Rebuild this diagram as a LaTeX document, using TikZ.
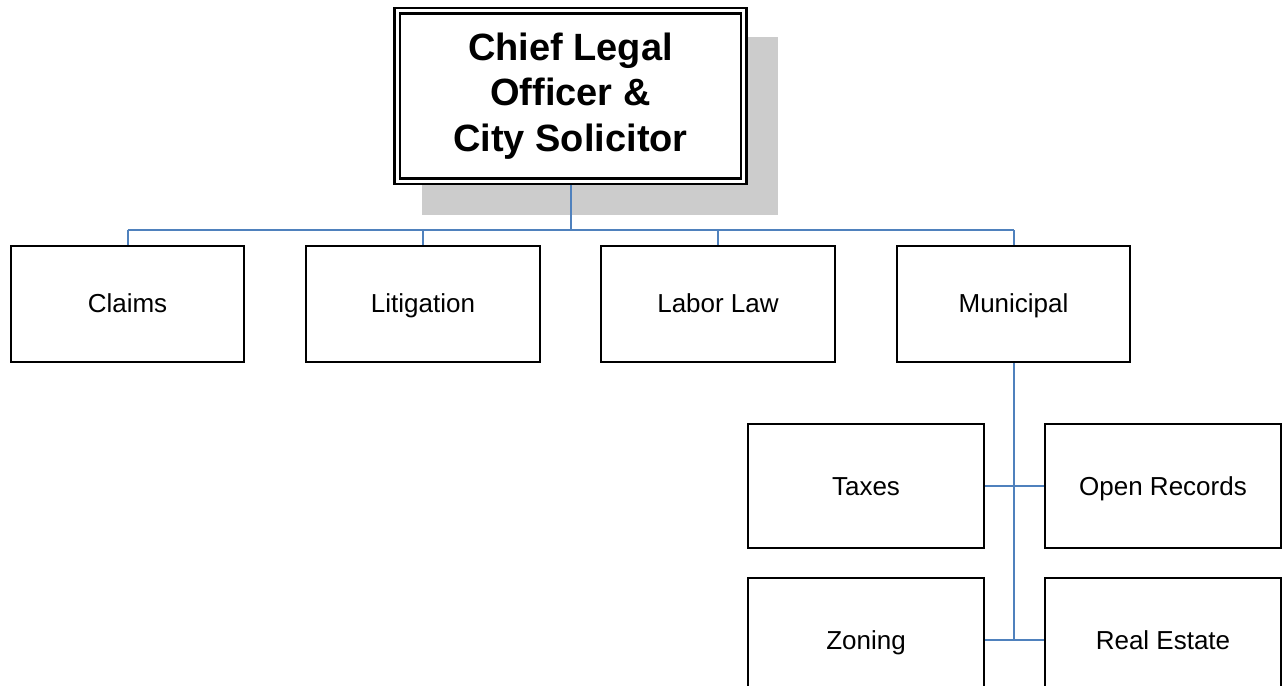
\documentclass[tikz,border=0pt]{standalone}
\usepackage{fontspec}
\setmainfont{Liberation Sans}
\usetikzlibrary{backgrounds}
\definecolor{linkblue}{HTML}{4F81BD}
\definecolor{shadowgray}{HTML}{CCCCCC}
\tikzset{
	unit/.style={draw, line width=1.5pt, fill=white, minimum width=175pt, minimum height=87pt, inner sep=0pt,
		text height=14pt, text depth=0pt, font=\fontsize{19.5}{23}\selectfont},
	subunit/.style={unit, minimum width=177pt, minimum height=93pt},
	link/.style={draw=linkblue, line width=1.5pt}
}
\begin{document}
\begin{tikzpicture}[x=0.75pt, y=-0.75pt]
	\useasboundingbox (0,0) rectangle (1283,686);
	\clip (0,0) rectangle (1283,686);
	% head of office
	\node[draw, line width=1.7pt, double=white, double distance=2.4pt, fill=white,
		minimum width=260pt, minimum height=128pt, align=center,
		font=\fontsize{28.5}{34}\selectfont\bfseries] (chief) at (570.5,96)
		{Chief Legal\\Officer \&\\City Solicitor};
	% divisions
	\node[unit] (claims) at (127.5,303.5) {Claims};
	\node[unit] (litigation) at (423,303.5) {Litigation};
	\node[unit] (labor) at (718,303.5) {Labor Law};
	\node[unit] (municipal) at (1013.5,303.5) {Municipal};
	% sections of municipal
	\node[subunit] (taxes) at (866,486) {Taxes};
	\node[subunit] (records) at (1163,486) {Open Records};
	\node[subunit] (zoning) at (866,640) {Zoning};
	\node[subunit] (estate) at (1163,640) {Real Estate};
	\coordinate (bus) at (570.5,230);
	\begin{scope}[on background layer]
		\fill[shadowgray] (422,37) rectangle (778,215);
		\draw[link] (chief.south) -- (bus);
		\draw[link] (claims.north |- bus) -- (municipal.north |- bus);
		\foreach \n in {claims,litigation,labor,municipal}
			\draw[link] (\n.north |- bus) -- (\n.north);
		\draw[link] (municipal.south) -- (municipal.south |- zoning.east);
		\draw[link] (taxes.east) -- (records.west);
		\draw[link] (zoning.east) -- (estate.west);
	\end{scope}
\end{tikzpicture}
\end{document}
